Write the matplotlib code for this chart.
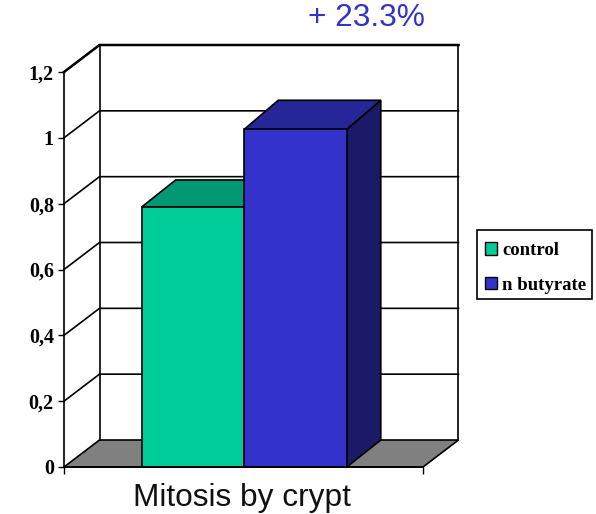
import matplotlib
matplotlib.use('Agg')
import matplotlib.pyplot as plt
from matplotlib.patches import Polygon, Patch, Rectangle

# dati
categories = ['control', 'n butyrate']
values = [0.79, 1.026]
y_ticks = [0, 0.2, 0.4, 0.6, 0.8, 1, 1.2]
y_labels = ['0', '0,2', '0,4', '0,6', '0,8', '1', '1,2']
x_label = 'Mitosis by crypt'
note = '+ 23.3%'

# colori: fronte, alto, lato
front_colors = ['#00CC99', '#3333CC']
top_colors = ['#009973', '#262699']
side_colors = ['#006B50', '#1A1A66']

W, H = 596, 514
LEFT, RIGHT, Y0, Y12 = 64, 423, 467, 72
BAR_W = 0.2856
BAR_START = 0.2165
# profondita' in unita' dati (px convertiti)
DX = 35.5 / (RIGHT - LEFT)
DY = 27 / (Y0 - Y12) * 1.2
BAR_DX = 34 / (RIGHT - LEFT)
BAR_TOP_DY = [27 / (Y0 - Y12) * 1.2, 29 / (Y0 - Y12) * 1.2]
LW = 1.2

plt.rcParams['font.family'] = ['Liberation Serif', 'DejaVu Sans']

fig = plt.figure(figsize=(W / 100, H / 100), dpi=100)
ax = fig.add_axes([LEFT / W, 1 - Y0 / H, (RIGHT - LEFT) / W, (Y0 - Y12) / H])
ax.set_xlim(0, 1)
ax.set_ylim(0, 1.2)
ax.patch.set_visible(False)
for s in ax.spines.values():
    s.set_visible(False)


def poly(points, color, z):
    ax.add_patch(Polygon(points, closed=True, facecolor=color, edgecolor='black',
                         linewidth=LW, joinstyle='miter', clip_on=False, zorder=z))


def line(xs, ys, z=1, lw=LW):
    ax.plot(xs, ys, color='black', linewidth=lw, clip_on=False, zorder=z,
            solid_capstyle='projecting')


# pavimento e griglia sul fondo
poly([(0, 0), (1, 0), (1 + DX, DY), (DX, DY)], '#808080', 1)
for t in y_ticks[1:]:
    line([0, DX, 1 + DX], [t, t + DY, t + DY], lw=LW)
line([0, DX, 1 + DX], [1.2, 1.2 + DY, 1.2 + DY], z=2, lw=1.8)
line([0, 0], [0, 1.2], z=2)
line([DX, DX], [DY, 1.2 + DY], z=2)
line([1 + DX, 1 + DX], [DY, 1.2 + DY], z=2)

# barre 3D
for i, v in enumerate(values):
    x0 = BAR_START + i * BAR_W
    x1 = x0 + BAR_W
    z = 3 + i
    top_dy = BAR_TOP_DY[i]
    poly([(x1, 0), (x1 + BAR_DX, DY), (x1 + BAR_DX, v + top_dy), (x1, v)], side_colors[i], z)
    poly([(x0, v), (x1, v), (x1 + BAR_DX, v + top_dy), (x0 + BAR_DX, v + top_dy)], top_colors[i], z)
    poly([(x0, 0), (x1, 0), (x1, v), (x0, v)], front_colors[i], z)

line([0, 1], [0, 0], z=6)

# assi
ax.set_yticks(y_ticks)
ax.set_yticklabels(y_labels, fontsize=14.5, fontweight='bold')
ax.tick_params(axis='y', length=4.3, width=1, pad=3)
ax.set_xticks([0, 1])
ax.set_xticklabels(['', ''])
ax.tick_params(axis='x', length=5, width=1)

fig.text(242 / W, 1 - 506 / H, x_label, family='Liberation Sans', fontsize=22.8,
         ha='center', va='baseline', color='#111111')
fig.text(366.5 / W, 1 - 26 / H, note, family='Liberation Sans', fontsize=22.8,
         ha='center', va='baseline', color='#3333CC')

# legenda: cornice a parte per avere la stessa larghezza dell'originale
fig.add_artist(Rectangle((477 / W, 1 - 298.5 / H), 115 / W, 68.5 / H, transform=fig.transFigure,
                         facecolor='white', edgecolor='black', linewidth=1.2, zorder=1))
handles = [Patch(facecolor=c, edgecolor='black', linewidth=1) for c in front_colors]
leg = fig.legend(handles, categories, loc='upper left',
                 bbox_to_anchor=(485 / W, 1 - 242 / H), bbox_transform=fig.transFigure,
                 prop={'family': 'Liberation Serif', 'weight': 'bold', 'size': 13.5},
                 frameon=False, handlelength=0.65, handleheight=0.65, handletextpad=0.26,
                 borderpad=0, borderaxespad=0, labelspacing=0.95)
leg.set_zorder(5)

fig.savefig('out.png', dpi=100)
